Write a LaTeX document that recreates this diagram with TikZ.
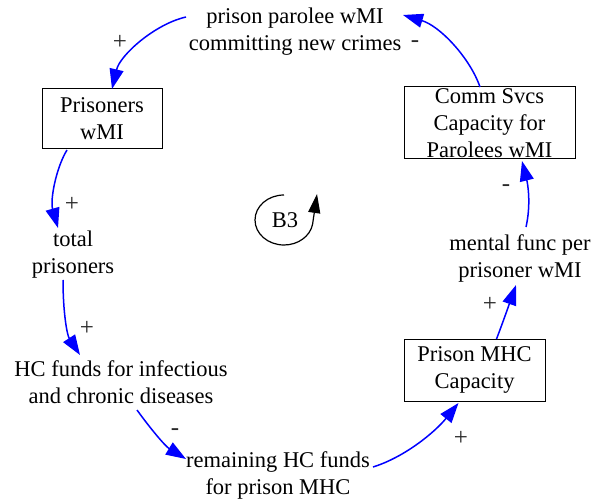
\documentclass[tikz,border=0pt]{standalone}
\usepackage{fontspec}
\setmainfont{Liberation Serif}
\usetikzlibrary{arrows.meta}
\definecolor{linkblue}{RGB}{0,0,255}
\definecolor{signgray}{RGB}{40,40,40}
\begin{document}
\begin{tikzpicture}[x=1pt,y=-1pt,
  every node/.style={font=\fontsize{22.5}{27}\selectfont, align=center},
  var/.style={inner sep=0pt},
  stock/.style={draw, line width=1pt, inner sep=0pt},
  link/.style={draw=linkblue, line width=1.5pt, -{Triangle[length=20pt,width=14pt]}, fill=none},
  sign/.style={text=signgray, font=\fontsize{25}{28}\selectfont, inner sep=0pt}]
\useasboundingbox (0,0) rectangle (591,502);

% variables and stocks
\node[var] (pp) at (295,32) {prison parolee wMI\\committing new crimes};
\node[stock, minimum width=120pt, minimum height=60pt] (pw) at (102,119) {Prisoners\\wMI};
\node[var] (tp) at (73,255) {total\\prisoners};
\node[var] (hc) at (121,382) {HC funds for infectious\\and chronic diseases};
\node[var] (rem) at (278,475) {remaining HC funds\\for prison MHC};
\node[stock, minimum width=141pt, minimum height=62pt] (mhc) at (474.5,370) {Prison MHC\\Capacity};
\node[var] (mf) at (520,258) {mental func per\\prisoner wMI};
\node[stock, minimum width=171pt, minimum height=72pt] (cs) at (489.5,123) {Comm Svcs\\Capacity for\\Parolees wMI};

% causal links
\draw[link] ([shift={(-109,-15)}]pp.center) .. controls (155,24) and (120,55) .. ([shift={(10,-30)}]pw.center);
\draw[link] ([shift={(-35,31)}]pw.center) .. controls (56,168) and (50,200) .. ([shift={(-15,-27)}]tp.center);
\draw[link] ([shift={(-10,25)}]tp.center) .. controls (63,312) and (67,335) .. ([shift={(-41,-27)}]hc.center);
\draw[link] ([shift={(16,28)}]hc.center) .. controls (150,428) and (165,446) .. ([shift={(-92,-16)}]rem.center);
\draw[link] ([shift={(95,-8)}]rem.center) .. controls (405,457) and (435,432) .. ([shift={(-16,33)}]mhc.center);
\draw[link] ([shift={(22,-31)}]mhc.center) .. controls (503,322) and (510,302) .. ([shift={(-4,27)}]mf.center);
\draw[link] ([shift={(6,-31)}]mf.center) .. controls (531,205) and (528,185) .. ([shift={(32.5,38)}]cs.center);
\draw[link] ([shift={(-9.5,-36)}]cs.center) .. controls (470,58) and (440,26) .. ([shift={(108,-17)}]pp.center);

% polarities
\node[sign] (s1) at (120,42) {+};
\node[sign] (s2) at (72,204) {+};
\node[sign] (s3) at (87,328) {+};
\node[sign] (s4) at (175,432) {-};
\node[sign] (s5) at (461,438) {+};
\node[sign] (s6) at (490,304) {+};
\node[sign] (s7) at (506,188) {-};
\node[sign] (s8) at (415,44) {-};

% balancing loop marker
\node[var] (b3) at (285,220) {B3};
\draw[line width=1.2pt, -{Triangle[length=19pt,width=12pt]}]
  ([shift={(-1,-25)}]b3.center) arc[start angle=270, end angle=10, x radius=29, y radius=25]
  -- ([shift={(32,-26)}]b3.center);
\end{tikzpicture}
\end{document}
